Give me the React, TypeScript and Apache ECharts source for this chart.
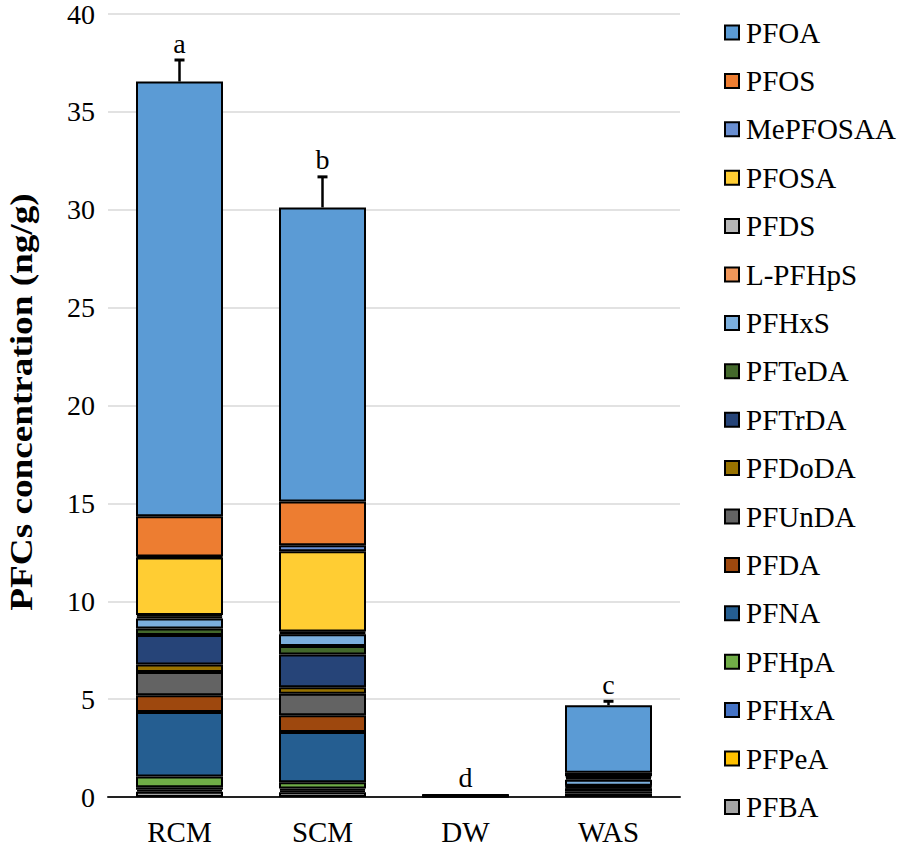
import React, { useEffect, useRef } from "react";
import * as echarts from "echarts";

const categories = ["RCM", "SCM", "DW", "WAS"];

// stacking order bottom -> top
const seriesNames = [
  "PFBA", "PFPeA", "PFHxA", "PFHpA", "PFNA", "PFDA", "PFUnDA", "PFDoDA",
  "PFTrDA", "PFTeDA", "PFHxS", "L-PFHpS", "PFDS", "PFOSA", "MePFOSAA", "PFOS", "PFOA",
];

const PFBA = [0.27, 0.24, 0.03, 0.18];
const PFPeA = [0.1, 0.1, 0.02, 0];
const PFHxA = [0.13, 0.09, 0.02, 0.12];
const PFHpA = [0.55, 0.32, 0, 0];
const PFNA = [3.29, 2.57, 0.02, 0.15];
const PFDA = [0.86, 0.85, 0, 0.05];
const PFUnDA = [1.19, 1.1, 0, 0];
const PFDoDA = [0.38, 0.34, 0, 0];
const PFTrDA = [1.5, 1.67, 0, 0.04];
const PFTeDA = [0.34, 0.44, 0, 0.04];
const PFHxS = [0.51, 0.6, 0, 0.3];
const LPFHpS = [0.09, 0.06, 0, 0];
const PFDS = [0.09, 0.07, 0, 0];
const PFOSA = [2.93, 4.1, 0, 0.1];
const MePFOSAA = [0.05, 0.31, 0, 0.08];
const PFOS = [2.06, 2.24, 0, 0.18];
const PFOA = [22.21, 15.02, 0.03, 3.45];

const errors = [1.1, 1.56, 0, 0.2];
const letters = ["a", "b", "d", "c"];

const yAxisTitle = "PFCs concentration (ng/g)";

const seriesValues = [
  PFBA, PFPeA, PFHxA, PFHpA, PFNA, PFDA, PFUnDA, PFDoDA,
  PFTrDA, PFTeDA, PFHxS, LPFHpS, PFDS, PFOSA, MePFOSAA, PFOS, PFOA,
];

const colors = [
  "#A5A5A5", "#FFC000", "#4472C4", "#70AD47", "#255E91", "#9E480E", "#636363", "#997300",
  "#264478", "#43682B", "#7CAFDD", "#F1975A", "#B7B7B7", "#FFCD33", "#698ED0", "#ED7D31", "#5B9BD5",
];

const FONT = "serif";

export default function App() {
  const ref = useRef<HTMLDivElement>(null);
  useEffect(() => {
    if (!ref.current) return;
    const chart = echarts.init(ref.current, undefined, { renderer: "svg" });
    const totals = categories.map((_, i) =>
      seriesValues.reduce((s, arr) => s + arr[i], 0)
    );
    const errData = categories.map((_, i) => [i, totals[i], totals[i] + errors[i]]);

    const barSeries = seriesNames.map((name, k) => ({
      name,
      type: "bar",
      stack: "total",
      barWidth: 87,
      data: seriesValues[k].map((v) => (v === 0 ? null : v)),
      itemStyle: { color: colors[k], borderColor: "#000", borderWidth: 2 },
      emphasis: { disabled: true },
    }));

    chart.setOption({
      animation: false,
      textStyle: { fontFamily: FONT },
      grid: { left: 108, right: 218, top: 14, bottom: 49, outerBoundsMode: "none" },
      graphic: [
        {
          type: "text",
          x: 21,
          y: 402,
          rotation: Math.PI / 2,
          scaleX: 1.2,
          style: {
            text: yAxisTitle,
            fontSize: 31,
            fontWeight: "bold",
            fontFamily: FONT,
            fill: "#000",
            align: "center",
            verticalAlign: "middle",
          },
        },
      ],
      legend: {
        data: [...seriesNames].reverse(),
        orient: "vertical",
        left: 719,
        top: 13,
        icon: "rect",
        itemWidth: 14,
        itemHeight: 14,
        itemGap: 19.4,
        itemStyle: { borderColor: "#000", borderWidth: 2 },
        textStyle: { fontSize: 29, fontFamily: FONT, color: "#000", lineHeight: 28, padding: [0, 0, 0, 2] },
        selectedMode: false,
      },
      xAxis: {
        type: "category",
        data: categories,
        axisLine: { lineStyle: { color: "#222", width: 2 } },
        axisTick: { show: false },
        axisLabel: { fontSize: 29, fontFamily: FONT, color: "#000", margin: 20 },
      },
      yAxis: {
        type: "value",
        min: 0,
        max: 40,
        interval: 5,
        axisLine: { show: false },
        axisTick: { show: false },
        axisLabel: { fontSize: 28, fontFamily: FONT, color: "#000", margin: 13 },
        splitLine: { lineStyle: { color: "#D9D9D9", width: 1.5 } },
      },
      series: [
        ...barSeries,
        {
          type: "custom",
          name: "err",
          z: 10,
          data: errData,
          encode: { x: 0, y: [1, 2] },
          renderItem: (params: any, api: any) => {
            const i = api.value(0);
            const base = api.coord([i, api.value(1)]);
            const top = api.coord([i, api.value(2)]);
            const letter = letters[params.dataIndex];
            const children: any[] = [];
            if (api.value(2) > api.value(1)) {
              children.push({
                type: "line",
                shape: { x1: base[0], y1: base[1], x2: top[0], y2: top[1] },
                style: { stroke: "#000", lineWidth: 2.5 },
              });
              children.push({
                type: "line",
                shape: { x1: top[0] - 5, y1: top[1], x2: top[0] + 5, y2: top[1] },
                style: { stroke: "#000", lineWidth: 3 },
              });
            }
            children.push({
              type: "text",
              x: top[0],
              y: top[1] - 3,
              style: {
                text: letter,
                fontSize: 28,
                fontFamily: FONT,
                fill: "#000",
                align: "center",
                verticalAlign: "bottom",
              },
            });
            return { type: "group", children };
          },
        },
      ],
    });
    return () => chart.dispose();
  }, []);
  return (
    <div
      ref={ref}
      style={{ position: "fixed", left: 0, top: 0, width: 898, height: 846, background: "#fff" }}
    />
  );
}
